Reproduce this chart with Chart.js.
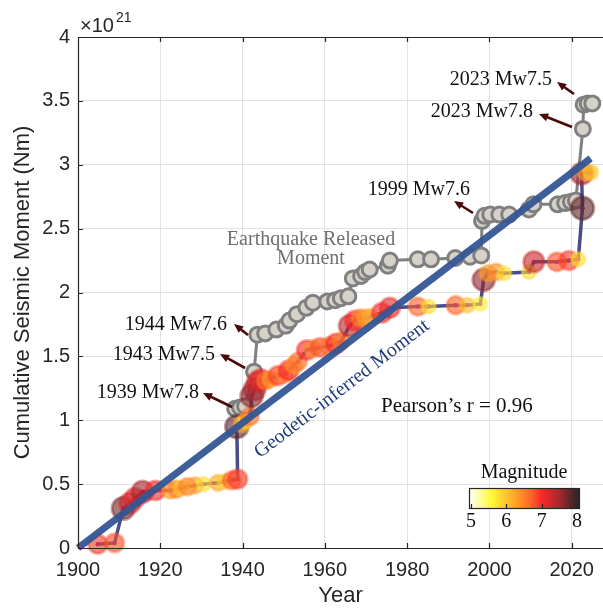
<!DOCTYPE html>
<html>
<head>
<meta charset="utf-8">
<script src="https://cdn.jsdelivr.net/npm/chart.js@4.4.1/dist/chart.umd.min.js"></script>
<style>
  html, body { margin: 0; padding: 0; background: #fff; }
  #c { display: block; }
</style>
</head>
<body>
<canvas id="c" width="603" height="608"></canvas>
<script>
/*  Data (moment in units of 1e21 Nm) ------------------------------------------ */
const geodeticYears  = [1900, 2024.6];
const geodeticMoment = [0, 3.05];

// earthquake released moment (grey)
const quakeYears = [1938.2, 1939.4, 1940.6, 1942.8, 1943.6, 1945.5, 1948.2, 1950.5, 1951.4, 1953.2,
  1955.5, 1957.1, 1960.6, 1962.5, 1963.9, 1965.7, 1966.8, 1968.8, 1969.8, 1970.9,
  1975.3, 1975.8, 1982.6, 1985.8, 1991.7, 1995.3, 1998.0, 1998.2, 1998.8, 2000.2,
  2002.4, 2004.8, 2009.6, 2010.7, 2016.6, 2018.4, 2019.8, 2021.0, 2022.7, 2022.9,
  2023.9, 2025.0];
const quakeMoment = [1.09, 1.10, 1.11, 1.38, 1.67, 1.68, 1.71, 1.74, 1.78, 1.83,
  1.88, 1.92, 1.93, 1.94, 1.955, 1.97, 2.11, 2.13, 2.16, 2.18,
  2.21, 2.25, 2.26, 2.26, 2.27, 2.28, 2.29, 2.56, 2.60, 2.61,
  2.61, 2.61, 2.65, 2.69, 2.69, 2.70, 2.71, 2.72, 3.28, 3.47,
  3.48, 3.48];

// catalogue events coloured by magnitude
const catYears = [1904.8, 1908.9, 1911.0, 1912.6, 1913.8, 1915.7, 1918.8, 1922.4, 1923.8, 1925.0,
  1926.6, 1928.4, 1930.6, 1934.0, 1935.6, 1937.4, 1938.8, 1938.6, 1939.8, 1940.6,
  1941.8, 1942.2, 1942.9, 1943.6, 1944.4, 1945.6, 1946.8, 1948.6, 1950.2, 1951.2,
  1952.5, 1953.5, 1955.6, 1957.0, 1958.8, 1961.0, 1962.7, 1964.0, 1966.0, 1967.3,
  1968.6, 1969.8, 1971.0, 1973.8, 1975.8, 1982.6, 1985.2, 1991.8, 1994.6, 1997.8,
  1998.6, 1999.6, 2001.6, 2003.6, 2009.6, 2010.8, 2016.4, 2019.3, 2021.6, 2022.6,
  2022.4, 2023.4, 2024.6];
const catMoment = [0.03, 0.04, 0.31, 0.35, 0.39, 0.44, 0.45, 0.45, 0.46, 0.47,
  0.48, 0.49, 0.50, 0.51, 0.52, 0.53, 0.54, 0.95, 0.97, 0.99,
  1.03, 1.19, 1.24, 1.30, 1.32, 1.31, 1.32, 1.35, 1.36, 1.39,
  1.43, 1.46, 1.55, 1.56, 1.57, 1.58, 1.60, 1.62, 1.74, 1.78,
  1.80, 1.80, 1.81, 1.84, 1.88, 1.89, 1.89, 1.90, 1.90, 1.91,
  2.10, 2.15, 2.16, 2.15, 2.16, 2.24, 2.24, 2.25, 2.26, 2.66,
  2.93, 2.94, 2.94];
const catMag = [6.9, 6.8, 7.7, 7.3, 7.1, 7.5, 7.0, 6.3, 6.5, 6.0,
  6.5, 6.3, 5.8, 6.2, 5.9, 6.7, 6.9, 7.8, 6.2, 5.9,
  6.6, 7.6, 7.5, 7.3, 7.1, 6.6, 6.3, 6.9, 6.5, 7.0,
  6.4, 6.6, 7.0, 6.4, 6.8, 6.6, 7.0, 6.5, 7.4, 7.0,
  6.5, 6.3, 6.2, 7.0, 7.1, 6.7, 5.8, 6.7, 6.0, 5.7,
  7.6, 6.3, 6.4, 5.8, 5.8, 7.3, 6.8, 6.9, 5.8, 7.8,
  7.5, 6.3, 6.0];

const xTicks = [1900, 1920, 1940, 1960, 1980, 2000, 2020];
const yTicks = [0, 0.5, 1, 1.5, 2, 2.5, 3, 3.5, 4];
const magTicks = [5, 6, 7, 8];

const eventLabels = ['2023 Mw7.5', '2023 Mw7.8', '1999 Mw7.6', '1944 Mw7.6', '1943 Mw7.5', '1939 Mw7.8'];

/*  Colour map ----------------------------------------------------------------- */
const magStops = [
  [5.0, [255, 255, 240]],
  [5.6, [255, 248, 50]],
  [6.2, [255, 170, 40]],
  [6.7, [255, 100, 40]],
  [7.0, [250, 40, 40]],
  [7.5, [165, 40, 45]],
  [8.0, [50, 38, 38]],
];

function magRGB(m) {
  if (m <= magStops[0][0]) return magStops[0][1];
  for (let i = 1; i < magStops.length; i++) {
    const [m1, c1] = magStops[i];
    const [m0, c0] = magStops[i - 1];
    if (m <= m1) {
      const t = (m - m0) / (m1 - m0);
      return c0.map((v, k) => Math.round(v + (c1[k] - v) * t));
    }
  }
  return magStops[magStops.length - 1][1];
}
const magColor = (m, a) => `rgba(${magRGB(m).join(',')},${a})`;

const toPts = (xs, ys) => xs.map((x, i) => ({ x, y: ys[i] }));

/*  Annotations, arrows, frame, colour bar -------------------------------------- */
// text: right end x, centre y ; arrow: tail -> head (pixels)
const labelLayout = [
  { tx: 552, ty: 80,  a: [574, 94, 557, 82] },
  { tx: 533, ty: 112, a: [572, 127, 539, 114] },
  { tx: 470, ty: 190, a: [473, 213, 454, 201] },
  { tx: 227, ty: 325, a: [248, 335, 234, 324] },
  { tx: 215, ty: 355, a: [245, 368, 220, 354] },
  { tx: 199, ty: 393, a: [232, 407, 203, 393] },
];

function drawArrow(ctx, x1, y1, x2, y2) {
  const ang = Math.atan2(y2 - y1, x2 - x1);
  const h = 10;
  ctx.beginPath();
  ctx.moveTo(x1, y1);
  ctx.lineTo(x2 - Math.cos(ang) * h * 0.7, y2 - Math.sin(ang) * h * 0.7);
  ctx.stroke();
  ctx.beginPath();
  ctx.moveTo(x2, y2);
  ctx.lineTo(x2 - h * Math.cos(ang - 0.42), y2 - h * Math.sin(ang - 0.42));
  ctx.lineTo(x2 - h * Math.cos(ang + 0.42), y2 - h * Math.sin(ang + 0.42));
  ctx.closePath();
  ctx.fill();
}

const extras = {
  id: 'extras',
  afterDraw(chart) {
    const { ctx, chartArea: a, scales: { x, y } } = chart;
    ctx.save();

    // frame + inward ticks
    ctx.strokeStyle = '#262626';
    ctx.lineWidth = 1.2;
    ctx.beginPath();
    ctx.moveTo(a.left + 0.5, a.top + 0.5);
    ctx.lineTo(a.right, a.top + 0.5);
    ctx.moveTo(a.left + 0.5, a.top);
    ctx.lineTo(a.left + 0.5, a.bottom + 0.5);
    ctx.lineTo(a.right, a.bottom + 0.5);
    xTicks.forEach((v) => {
      const px = Math.round(x.getPixelForValue(v)) + 0.5;
      ctx.moveTo(px, a.bottom); ctx.lineTo(px, a.bottom - 5);
      ctx.moveTo(px, a.top); ctx.lineTo(px, a.top + 5);
    });
    yTicks.forEach((v) => {
      const py = Math.round(y.getPixelForValue(v)) + 0.5;
      ctx.moveTo(a.left, py); ctx.lineTo(a.left + 5, py);
    });
    ctx.stroke();

    // exponent
    ctx.fillStyle = '#262626';
    ctx.textBaseline = 'alphabetic';
    ctx.textAlign = 'left';
    ctx.font = '20px "Liberation Sans", Arial, sans-serif';
    ctx.fillText('\u00d710', 80, 32);
    ctx.font = '14px "Liberation Sans", Arial, sans-serif';
    ctx.fillText('21', 116, 22);

    // event labels + arrows
    ctx.font = '20px "Liberation Serif", serif';
    ctx.textAlign = 'right';
    ctx.textBaseline = 'middle';
    ctx.strokeStyle = '#4a0a0a';
    ctx.lineWidth = 2.6;
    labelLayout.forEach((l, i) => {
      ctx.fillStyle = '#111';
      ctx.fillText(eventLabels[i], l.tx, l.ty);
      ctx.fillStyle = '#4a0a0a';
      drawArrow(ctx, ...l.a);
    });

    // series labels
    ctx.textAlign = 'center';
    ctx.fillStyle = '#707070';
    ctx.fillText('Earthquake Released', 311, 240);
    ctx.fillText('Moment', 311, 259);

    ctx.save();
    ctx.translate(342, 389);
    ctx.rotate(-37.5 * Math.PI / 180);
    ctx.fillStyle = '#1f3c78';
    ctx.fillText('Geodetic-inferred Moment', 0, 0);
    ctx.restore();

    ctx.fillStyle = '#111';
    ctx.font = '21px "Liberation Serif", serif';
    ctx.textAlign = 'left';
    ctx.fillText('Pearson\u2019s r = 0.96', 381, 406);

    // colour bar
    const bx0 = 469, bx1 = 579, by0 = 488, by1 = 508;
    const m2x = (m) => 471 + (m - 5) / 3 * 106;
    const grad = ctx.createLinearGradient(m2x(5), 0, m2x(8), 0);
    magStops.forEach(([m, c]) => grad.addColorStop((m - 5) / 3, `rgb(${c.join(',')})`));
    ctx.fillStyle = grad;
    ctx.fillRect(bx0, by0, bx1 - bx0, by1 - by0);
    ctx.strokeStyle = '#262626';
    ctx.lineWidth = 1.2;
    ctx.strokeRect(bx0 + 0.5, by0 + 0.5, bx1 - bx0, by1 - by0);
    ctx.beginPath();
    magTicks.forEach((m) => {
      const px = Math.round(m2x(m)) + 0.5;
      ctx.moveTo(px, by1); ctx.lineTo(px, by1 - 4);
    });
    ctx.stroke();
    ctx.fillStyle = '#111';
    ctx.font = '20px "Liberation Serif", serif';
    ctx.textAlign = 'center';
    magTicks.forEach((m) => ctx.fillText(String(m), m2x(m), 522));
    ctx.fillText('Magnitude', 524, 473);

    ctx.restore();
  }
};

/*  Chart ---------------------------------------------------------------------- */
Chart.defaults.font.family = '"Liberation Sans", Arial, sans-serif';
Chart.defaults.color = '#262626';

new Chart(document.getElementById('c'), {
  type: 'scatter',
  data: {
    datasets: [
      {
        label: 'Geodetic-inferred Moment',
        data: toPts(geodeticYears, geodeticMoment),
        showLine: true,
        borderColor: 'rgba(52, 86, 148, 0.95)',
        borderWidth: 7,
        pointRadius: 0,
        order: 0,
        clip: false,
      },
      {
        label: 'catalogue events',
        data: toPts(catYears, catMoment),
        showLine: false,
        pointRadius: catMag.map((m) => 5 + (m - 5) * 2.3),
        backgroundColor: catMag.map((m) => magColor(m, 0.62)),
        borderColor: catMag.map((m) => magColor(m, 0.42)),
        borderWidth: 3,
        order: 1,
        clip: false,
      },
      {
        label: 'catalogue path',
        data: toPts(catYears, catMoment),
        showLine: true,
        borderColor: 'rgba(45, 45, 120, 0.85)',
        borderWidth: 3.5,
        pointRadius: 2.2,
        pointBackgroundColor: '#7a1ea0',
        pointBorderWidth: 0,
        order: 2,
        clip: false,
      },
      {
        label: 'Earthquake Released Moment',
        data: toPts(quakeYears, quakeMoment),
        showLine: true,
        borderColor: '#808080',
        borderWidth: 3,
        pointRadius: 7.5,
        pointBorderWidth: 3,
        pointBackgroundColor: '#d6d2ca',
        pointBorderColor: '#808080',
        order: 3,
        clip: false,
      },
    ],
  },
  options: {
    responsive: false,
    animation: false,
    devicePixelRatio: 1,
    layout: { autoPadding: false, padding: { top: 37, left: 0, right: 0, bottom: 0 } },
    plugins: { legend: { display: false }, tooltip: { enabled: false } },
    scales: {
      x: {
        type: 'linear',
        min: 1900,
        max: 2027.6,
        afterFit: (s) => { s.height = 60; s.paddingLeft = 0; s.paddingRight = 0; },
        afterBuildTicks: (s) => { s.ticks = xTicks.map((v) => ({ value: v })); },
        ticks: { font: { size: 20 }, padding: 10, callback: (v) => String(v), maxRotation: 0 },
        grid: { color: '#e2e2e2', drawTicks: false },
        border: { display: false },
        title: { display: true, text: 'Year', font: { size: 22, lineHeight: 1.1 }, padding: 0 },
      },
      y: {
        min: 0,
        max: 4,
        afterFit: (s) => { s.width = 78; s.paddingTop = 0; s.paddingBottom = 0; },
        afterBuildTicks: (s) => { s.ticks = yTicks.map((v) => ({ value: v })); },
        ticks: { font: { size: 20 }, padding: 8, callback: (v) => String(v) },
        grid: { color: '#e2e2e2', drawTicks: false },
        border: { display: false },
        title: {
          display: true,
          text: 'Cumulative Seismic Moment (Nm)',
          font: { size: 22 },
          padding: { top: 10, bottom: 0 },
        },
      },
    },
  },
  plugins: [extras],
});
</script>
</body>
</html>
